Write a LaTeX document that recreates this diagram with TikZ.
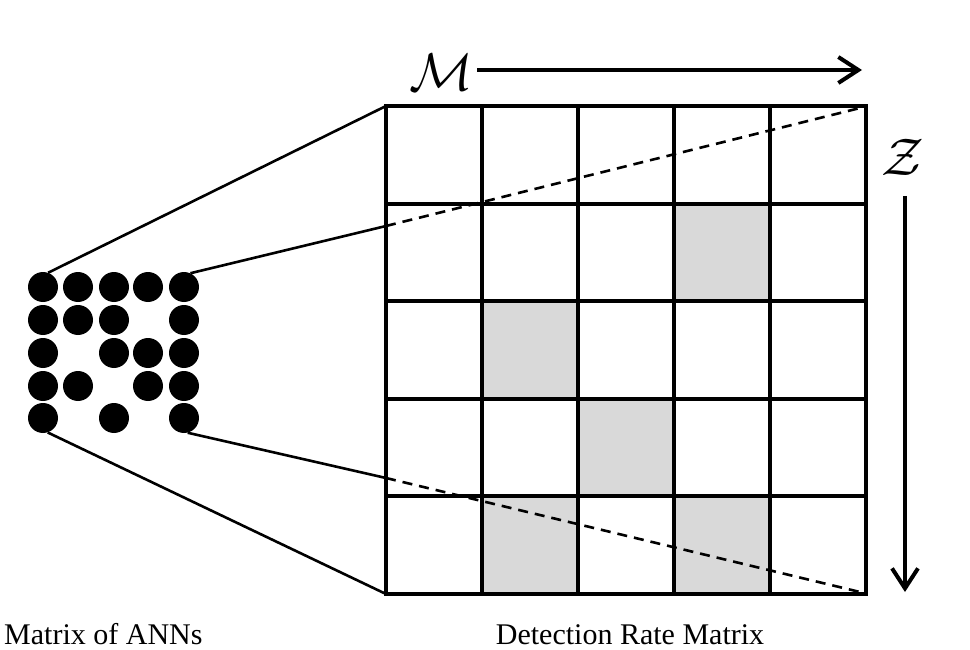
\documentclass[tikz,border=0pt]{standalone}
\usepackage{fontspec}
\usepackage{graphicx}
\setmainfont{Liberation Serif}
\usetikzlibrary{arrows.meta}
\definecolor{cellgray}{RGB}{217,217,217}
\tikzset{
  dot/.style={circle,fill=black,draw=none,minimum size=30pt,inner sep=0pt},
  cellbox/.style={draw=none,minimum width=96pt,minimum height=97.6pt,inner sep=0pt},
  gridline/.style={line width=4pt,line cap=rect},
  linkline/.style={line width=2.6pt},
  dashlink/.style={line width=2.6pt,dash pattern=on 10pt off 7pt},
  axisarrow/.style={line width=4pt,-{Straight Barb[length=20pt,width=26pt]}},
  caption/.style={font=\fontsize{30}{36}\selectfont,inner sep=0pt},
  axislabel/.style={inner sep=0pt}
}
\begin{document}
\begin{tikzpicture}[x=1pt,y=-1pt]
\useasboundingbox (0,0) rectangle (970,650);
% cells
\foreach \r in {1,...,5}{
  \foreach \c in {1,...,5}{
    \node[cellbox] (c\r\c) at ({386+96*(\c-0.5)},{106+97.6*(\r-0.5)}) {};
  }
}
\foreach \r/\c in {2/4,3/2,4/3,5/2,5/4}{
  \fill[cellgray] (c\r\c.north west) rectangle (c\r\c.south east);
}
\coordinate (gtl) at (386,106);
\coordinate (gbl) at (386,594);
\coordinate (gtr) at (866,106);
\coordinate (gbr) at (866,594);
\coordinate (gl1) at (386,226);
\coordinate (gl2) at (386,478);
% grid lines
\foreach \i in {0,...,5}{
  \draw[gridline] ({386+96*\i},106) -- ({386+96*\i},594);
  \draw[gridline] (386,{106+97.6*\i}) -- (866,{106+97.6*\i});
}
% dots
\foreach \r/\c/\x/\y in {1/1/43/287,1/2/78/287,1/3/114/287,1/4/148/287,1/5/184/287,
  2/1/43/320,2/2/78/320,2/3/114/320,2/5/184/320,
  3/1/43/353,3/3/114/353,3/4/148/353,3/5/184/353,
  4/1/43/386,4/2/78/386,4/4/148/386,4/5/184/386,
  5/1/43/418,5/3/114/418,5/5/184/418}{
  \node[dot] (d\r\c) at (\x,\y) {};
}
% connectors
\draw[linkline] (d11.70) -- (gtl);
\draw[linkline] (d15.65) -- (gl1);
\draw[linkline] (d51.-72) -- (gbl);
\draw[linkline] (d55.-76) -- (gl2);
\draw[dashlink] (gl1) -- (860,108);
\draw[dashlink] (gl2) -- (860,592);
% axes
\node[axislabel] (mlab) at (441,72) {\scalebox{5.3}{$\mathcal{M}$}};
\coordinate (ms) at (477,70);
\coordinate (me) at (862,70);
\draw[axisarrow] (ms) -- (me);
\node[axislabel] (zlab) at (903,157) {\scalebox{5.3}{$\mathcal{Z}$}};
\coordinate (zs) at (905,196);
\coordinate (ze) at (905,592);
\draw[axisarrow] (zs) -- (ze);
% captions
\node[caption,anchor=base west] (cap1) at (4,644) {Matrix of ANNs};
\node[caption,anchor=base] (cap2) at (630,644) {Detection Rate Matrix};
\end{tikzpicture}
\end{document}
